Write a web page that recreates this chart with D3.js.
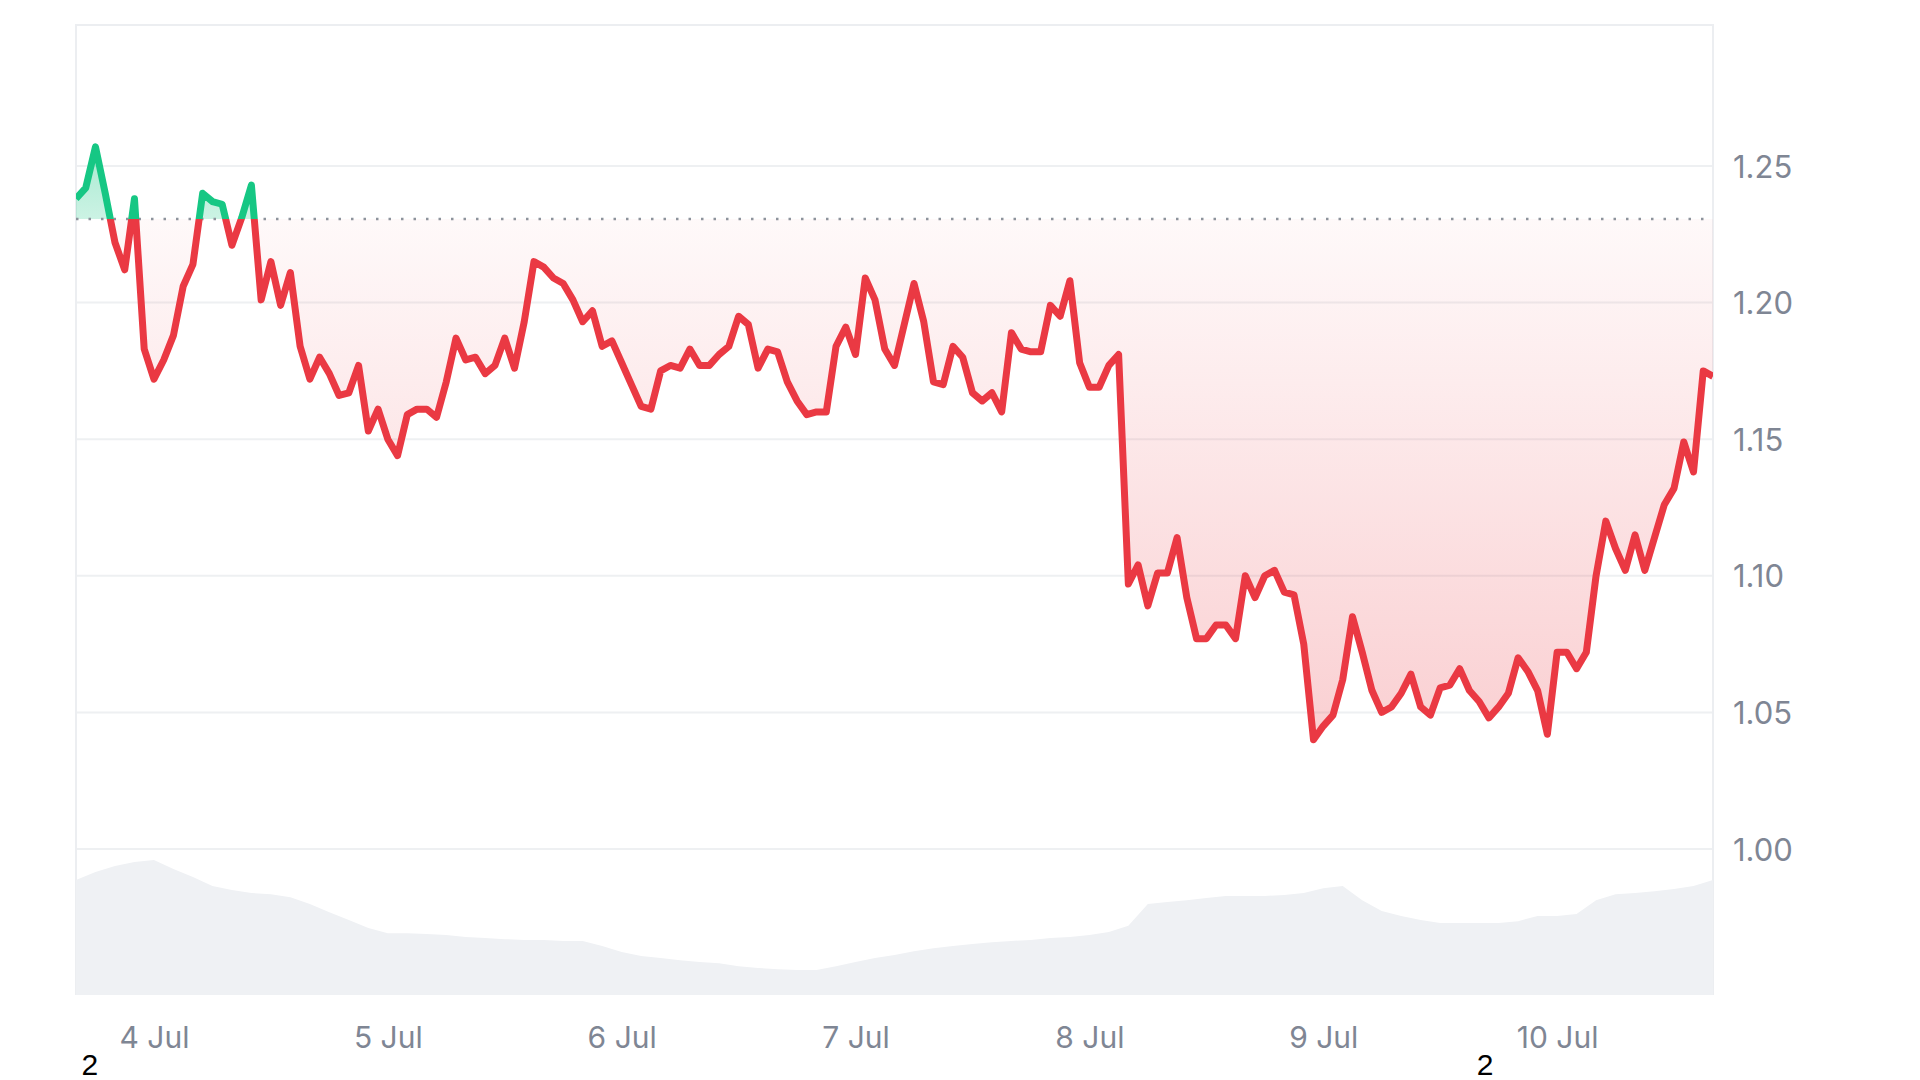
<!DOCTYPE html>
<html>
<head>
<meta charset="utf-8">
<script src="https://cdn.jsdelivr.net/npm/d3@7"></script>
<style>
  html, body { margin: 0; background: #fff; }
  svg { display: block; }
</style>
</head>
<body>
<svg id="chart" width="1920" height="1080"></svg>
<script>
// hourly prices, 3 Jul 16:00 -> 10 Jul 16:00
var startTime = new Date(2024, 6, 3, 16, 0);
var priceValues = [
  1.238, 1.242, 1.257, 1.240, 1.222, 1.212, 1.238, 1.183, 1.172, 1.179,
  1.188, 1.206, 1.214, 1.240, 1.237, 1.236, 1.221, 1.231, 1.243, 1.201,
  1.215, 1.199, 1.211, 1.184, 1.172, 1.180, 1.174, 1.166, 1.167, 1.177,
  1.153, 1.161, 1.150, 1.144, 1.159, 1.161, 1.161, 1.158, 1.171, 1.187,
  1.179, 1.180, 1.174, 1.177, 1.187, 1.176, 1.193, 1.215, 1.213, 1.209,
  1.207, 1.201, 1.193, 1.197, 1.184, 1.186, 1.178, 1.170, 1.162, 1.161,
  1.175, 1.177, 1.176, 1.183, 1.177, 1.177, 1.181, 1.184, 1.195, 1.192,
  1.176, 1.183, 1.182, 1.171, 1.164, 1.159, 1.160, 1.160, 1.184, 1.191,
  1.181, 1.209, 1.201, 1.183, 1.177, 1.192, 1.207, 1.193, 1.171, 1.170,
  1.184, 1.180, 1.167, 1.164, 1.167, 1.160, 1.189, 1.183, 1.182, 1.182,
  1.199, 1.195, 1.208, 1.178, 1.169, 1.169, 1.177, 1.181, 1.097, 1.104,
  1.089, 1.101, 1.101, 1.114, 1.092, 1.077, 1.077, 1.082, 1.082, 1.077,
  1.100, 1.092, 1.100, 1.102, 1.094, 1.093, 1.075, 1.040, 1.045, 1.049,
  1.062, 1.085, 1.072, 1.058, 1.050, 1.052, 1.057, 1.064, 1.052, 1.049,
  1.059, 1.060, 1.066, 1.058, 1.054, 1.048, 1.052, 1.057, 1.070, 1.065,
  1.058, 1.042, 1.072, 1.072, 1.066, 1.072, 1.100, 1.120, 1.110, 1.102,
  1.115, 1.102, 1.114, 1.126, 1.132, 1.149, 1.138, 1.175, 1.173
];
// volume every 2 hours (millions)
var volumeValues = [
  307, 328, 344, 355, 360, 336, 315, 291, 280, 272, 269, 261, 243, 221, 200,
  179, 165, 165, 163, 160, 155, 152, 149, 147, 147, 144, 144, 131, 115, 104,
  99, 93, 88, 85, 77, 72, 69, 67, 67, 77, 88, 99, 107, 117, 125,
  131, 136, 141, 144, 147, 152, 155, 160, 168, 185, 243, 248, 253, 259, 264,
  264, 264, 267, 272, 285, 291, 253, 224, 211, 200, 192, 192, 192, 192, 197,
  211, 211, 216, 253, 269, 272, 277, 283, 291, 307
];
var baseValue = 1.2306;
var yTicks = [1.00, 1.05, 1.10, 1.15, 1.20, 1.25];
var xTickDates = [4, 5, 6, 7, 8, 9, 10];
var markerLabels = ['2', '2'];

var GREEN = '#16c784', RED = '#ea3943';
var plotLeft = 76, plotRight = 1713, plotTop = 25, plotBottom = 995;

var prices = priceValues.map(function (v, i) {
  return { t: d3.timeHour.offset(startTime, i), v: v };
});
var volumes = volumeValues.map(function (v, i) {
  return { t: d3.timeHour.offset(startTime, i * 2), v: v };
});

var svg = d3.select('#chart');
var defs = svg.append('defs');

var x = d3.scaleTime()
  .domain([startTime, d3.timeHour.offset(startTime, 168)])
  .range([plotLeft, plotRight]);
var y = d3.scaleLinear().domain([1.00, 1.25]).range([849, 166]);
var yVol = d3.scaleLinear().domain([0, 400]).range([plotBottom, plotBottom - 150]);
var yBase = y(baseValue);

// clips above / below the reference price
defs.append('clipPath').attr('id', 'clipAbove')
  .append('rect').attr('x', plotLeft).attr('y', plotTop)
  .attr('width', plotRight - plotLeft).attr('height', yBase - plotTop);
defs.append('clipPath').attr('id', 'clipBelow')
  .append('rect').attr('x', plotLeft).attr('y', yBase)
  .attr('width', plotRight - plotLeft).attr('height', plotBottom - yBase);

var gGreen = defs.append('linearGradient').attr('id', 'gradGreen')
  .attr('gradientUnits', 'userSpaceOnUse')
  .attr('x1', 0).attr('x2', 0).attr('y1', y(1.26)).attr('y2', yBase);
gGreen.append('stop').attr('offset', 0).attr('stop-color', GREEN).attr('stop-opacity', 0.4);
gGreen.append('stop').attr('offset', 1).attr('stop-color', GREEN).attr('stop-opacity', 0.22);

var gRed = defs.append('linearGradient').attr('id', 'gradRed')
  .attr('gradientUnits', 'userSpaceOnUse')
  .attr('x1', 0).attr('x2', 0).attr('y1', yBase).attr('y2', y(1.04));
gRed.append('stop').attr('offset', 0).attr('stop-color', RED).attr('stop-opacity', 0.03);
gRed.append('stop').attr('offset', 1).attr('stop-color', RED).attr('stop-opacity', 0.24);

// grid lines
svg.append('g').selectAll('line')
  .data(yTicks)
  .enter().append('line')
  .attr('x1', plotLeft).attr('x2', plotRight)
  .attr('y1', function (d) { return y(d); })
  .attr('y2', function (d) { return y(d); })
  .attr('stroke', '#eef0f2')
  .attr('stroke-width', 2);

// frame
svg.append('path')
  .attr('d', 'M' + plotLeft + ',' + plotBottom + 'V' + plotTop + 'H' + plotRight + 'V' + plotBottom)
  .attr('fill', 'none')
  .attr('stroke', '#eceef1')
  .attr('stroke-width', 2);

// volume
svg.append('path')
  .datum(volumes)
  .attr('fill', '#eff1f4')
  .attr('d', d3.area()
    .x(function (d) { return x(d.t); })
    .y0(plotBottom)
    .y1(function (d) { return yVol(d.v); }));

// fills between price and reference
var fillArea = d3.area()
  .x(function (d) { return x(d.t); })
  .y0(yBase)
  .y1(function (d) { return y(d.v); });

svg.append('path').datum(prices)
  .attr('clip-path', 'url(#clipAbove)')
  .attr('fill', 'url(#gradGreen)')
  .attr('d', fillArea);
svg.append('path').datum(prices)
  .attr('clip-path', 'url(#clipBelow)')
  .attr('fill', 'url(#gradRed)')
  .attr('d', fillArea);

// reference dotted line
svg.append('line')
  .attr('x1', plotLeft).attr('x2', plotRight - 6)
  .attr('y1', yBase).attr('y2', yBase)
  .attr('stroke', '#8d939c')
  .attr('stroke-width', 2.5)
  .attr('stroke-dasharray', '2.5,10');

// price line
var priceLine = d3.line()
  .x(function (d) { return x(d.t); })
  .y(function (d) { return y(d.v); });

svg.append('path').datum(prices)
  .attr('clip-path', 'url(#clipAbove)')
  .attr('fill', 'none').attr('stroke', GREEN)
  .attr('stroke-width', 7).attr('stroke-linejoin', 'round')
  .attr('d', priceLine);
svg.append('path').datum(prices)
  .attr('clip-path', 'url(#clipBelow)')
  .attr('fill', 'none').attr('stroke', RED)
  .attr('stroke-width', 7).attr('stroke-linejoin', 'round')
  .attr('d', priceLine);

// y axis on the right
var yAxis = svg.append('g')
  .attr('transform', 'translate(' + plotRight + ',0)')
  .call(d3.axisRight(y).tickValues(yTicks).tickSize(0).tickPadding(20)
    .tickFormat(d3.format('.2f')));
yAxis.select('.domain').remove();
yAxis.selectAll('text')
  .attr('fill', '#7f8694')
  .attr('font-family', 'Inter, "Liberation Sans", sans-serif')
  .attr('font-size', '31px')
  .attr('dy', '0.36em');

// x axis
var xAxis = svg.append('g')
  .attr('transform', 'translate(0,' + plotBottom + ')')
  .call(d3.axisBottom(x)
    .tickValues(xTickDates.map(function (d) { return new Date(2024, 6, d); }))
    .tickSize(0).tickPadding(0)
    .tickFormat(d3.timeFormat('%-d %b')));
xAxis.select('.domain').remove();
xAxis.selectAll('text')
  .attr('fill', '#7f8694')
  .attr('font-family', 'Inter, "Liberation Sans", sans-serif')
  .attr('font-size', '30px')
  .attr('y', 53)
  .attr('dy', 0);

// small black markers under the axis
svg.append('g').selectAll('text')
  .data([new Date(2024, 6, 3, 17, 26), new Date(2024, 6, 9, 16, 36)])
  .enter().append('text')
  .attr('x', function (d) { return x(d); })
  .attr('y', 1075)
  .attr('text-anchor', 'middle')
  .attr('font-family', '"Liberation Sans", Arial, sans-serif')
  .attr('font-size', '30px')
  .attr('fill', '#000')
  .text(function (d, i) { return markerLabels[i]; });
</script>
</body>
</html>
